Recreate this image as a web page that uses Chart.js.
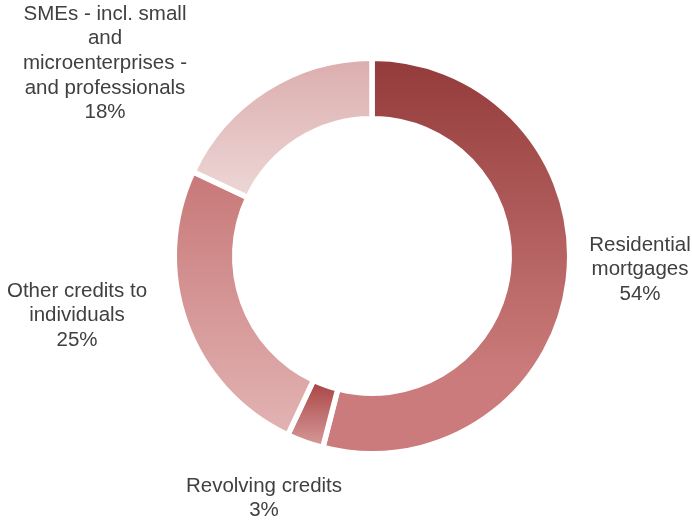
<!DOCTYPE html>
<html>
<head>
<meta charset="utf-8">
<script src="https://cdn.jsdelivr.net/npm/chart.js@4.4.1/dist/chart.umd.min.js"></script>
<style>
  html, body { margin: 0; padding: 0; background: #fff; }
  #wrap { width: 692px; height: 520px; position: relative; }
</style>
</head>
<body>
<div id="wrap"><canvas id="pie"></canvas></div>
<script>
// data
const categories = [
  ["Residential", "mortgages"],
  ["Revolving credits"],
  ["Other credits to", "individuals"],
  ["SMEs - incl. small", "and", "microenterprises -", "and professionals"]
];
const shares = [54, 3, 25, 18];

// gradient colours per slice (top -> bottom)
const topColors = ["#943b3b", "#aa4545", "#c87878", "#dcaeae"];
const bottomColors = ["#cb7b7b", "#d69898", "#e2b3b3", "#edd6d6"];

// label anchors (centre of first text line)
const labelPos = [[640, 245], [264, 486], [77, 291], [105, 14]];

// visible ring size
const R_OUT = 195;
const R_IN = 140;
const GAP = 5.5;

function sliceGradient(ctx) {
  const chart = ctx.chart;
  const area = chart.chartArea;
  const i = ctx.dataIndex;
  if (!area || i === undefined) return topColors[i || 0];
  const cy = (area.top + area.bottom) / 2;
  const total = shares.reduce((a, b) => a + b, 0);
  const before = shares.slice(0, i).reduce((a, b) => a + b, 0);
  const a0 = -Math.PI / 2 + 2 * Math.PI * before / total;
  const a1 = -Math.PI / 2 + 2 * Math.PI * (before + shares[i]) / total;
  let minY = Infinity, maxY = -Infinity;
  for (let k = 0; k <= 60; k++) {
    const a = a0 + (a1 - a0) * k / 60;
    [R_OUT, R_IN].forEach(r => {
      const y = cy + Math.sin(a) * r;
      minY = Math.min(minY, y);
      maxY = Math.max(maxY, y);
    });
  }
  const g = chart.ctx.createLinearGradient(0, minY, 0, maxY);
  g.addColorStop(0, topColors[i]);
  g.addColorStop(i === 0 ? 0.8 : 1, bottomColors[i]);
  g.addColorStop(1, bottomColors[i]);
  return g;
}

const outsideLabels = {
  id: "outsideLabels",
  afterDraw(chart) {
    const c = chart.ctx;
    c.save();
    c.fillStyle = "#404040";
    c.font = "20.5px 'Liberation Sans', Arial, sans-serif";
    c.textAlign = "center";
    c.textBaseline = "middle";
    categories.forEach((lines, i) => {
      const all = lines.concat([shares[i] + "%"]);
      all.forEach((t, j) => {
        c.fillText(t, labelPos[i][0], labelPos[i][1] + j * 24.7);
      });
    });
    c.restore();
  }
};

new Chart(document.getElementById("pie"), {
  type: "doughnut",
  data: {
    labels: categories.map(l => l.join(" ")),
    datasets: [{
      data: shares,
      backgroundColor: sliceGradient,
      borderColor: "#ffffff",
      borderWidth: GAP
    }]
  },
  options: {
    responsive: true,
    maintainAspectRatio: false,
    animation: false,
    radius: R_OUT + GAP / 2,
    cutout: ((R_IN - GAP / 2) / (R_OUT + GAP / 2) * 100) + "%",
    layout: { padding: { top: 61, bottom: 69, left: 177, right: 125 } },
    plugins: {
      legend: { display: false },
      tooltip: { enabled: false }
    }
  },
  plugins: [outsideLabels]
});
</script>
</body>
</html>
